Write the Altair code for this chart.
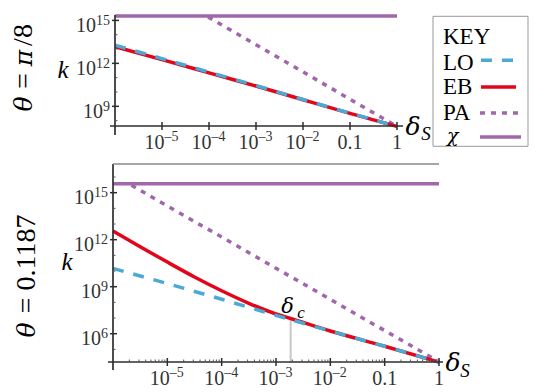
import altair as alt
import pandas as pd

# ---------------- values (log10 units) ----------------
DECADES = [-6, -5, -4, -3, -2, -1, 0]            # log10(delta_S)

# theta = pi/8
TOP_LO = [13.27, 12.33, 11.39, 10.45, 9.48, 8.52, 7.60]
TOP_EB = [13.17, 12.26, 11.34, 10.42, 9.46, 8.51, 7.60]
TOP_PA_X = [-4.02, -3, -2, -1, 0]
TOP_PA = [15.24, 13.30, 11.40, 9.50, 7.60]
TOP_CHI = 15.31

# theta = 0.1187
BOT_LO = [10.17, 9.20, 8.20, 7.17, 6.17, 5.20, 4.19]
BOT_EB_X = [-6, -5.5, -5, -4.5, -4, -3.5, -3, -2.73, -2, -1, 0]
BOT_EB = [12.555, 11.55, 10.57, 9.62, 8.74, 7.94, 7.26, 6.97, 6.17, 5.20, 4.19]
BOT_PA_X = [-5.66, -5, -4, -3, -2, -1, 0]
BOT_PA = [15.47, 14.15, 12.17, 10.18, 8.19, 6.20, 4.21]
BOT_CHI = 15.57
DELTA_C = -2.73
DELTA_C_K = 6.85

TOP_YDOMAIN = [7.626, 15.377]
BOT_YDOMAIN = [4.195, 16.83]

# ticks and tick labels
X_TICKS = [1e-5, 1e-4, 1e-3, 1e-2, 0.1, 1]
X_BASE = ["10", "10", "10", "10", "0.1", "1"]
X_EXP = ["–5", "–4", "–3", "–2", "", ""]
X_MINOR_DECADES = [-6, -5, -4, -3, -2, -1]
MINOR_MULT = [2, 3, 4, 5, 6, 7, 8, 9]
TOP_Y_TICKS = [1e9, 1e12, 1e15]
TOP_Y_EXP = ["9", "12", "15"]
TOP_Y_MINOR = [1e8, 1e10, 1e11, 1e13, 1e14]
BOT_Y_TICKS = [1e6, 1e9, 1e12, 1e15]
BOT_Y_EXP = ["6", "9", "12", "15"]
BOT_Y_MINOR = [1e5, 1e7, 1e8, 1e10, 1e11, 1e13, 1e14, 1e16]
Y_BASE = "10"

# row titles "θ = π/8" and "θ = 0.1187", split into Greek / Latin runs
TOP_TITLE = ["θ", "=", "π", "/8"]
BOT_TITLE = ["θ", "= 0.1187"]
LEGEND_TITLE = "KEY"
LEGEND_NAMES = ["LO", "EB", "PA", "χ"]

SERIF = "Liberation Serif, Times New Roman, Times, serif"
GREEK = "DejaVu Serif, serif"
BLUE = "#4AAAD4"
RED = "#E2061C"
PURPLE = "#A068AB"
AX = "#2e2e2e"
LBL = "#333333"
LW = 3.5

# whole drawing area and the two plot frames (pixels inside the view)
W, H = 521, 376
TOP_FRAME = (107, 0, 282, 111)      # x0, y0, width, height
BOT_FRAME = (105, 149, 326, 198)


def sdf(xlog, ylog):
    return pd.DataFrame({"d": [10 ** v for v in xlog], "k": [10 ** v for v in ylog]})


def one():
    return pd.DataFrame({"a": [0]})


def txt(s, x, y, size, italic=False, angle=0, align="center", font=SERIF):
    kw = dict(font=font, fontSize=size, color="black", align=align, baseline="middle")
    if italic:
        kw["fontStyle"] = "italic"
    if angle:
        kw["angle"] = angle
    return alt.Chart(pd.DataFrame({"t": [s]})).mark_text(**kw).encode(
        x=alt.value(x), y=alt.value(y), text="t:N")


def rule(x, x2, y, y2, color, width, dash=None):
    kw = dict(color=color, strokeWidth=width)
    if dash:
        kw["strokeDash"] = dash
    enc = dict(x=alt.value(x), y=alt.value(y))
    if x2 is not None:
        enc["x2"] = alt.value(x2)
    if y2 is not None:
        enc["y2"] = alt.value(y2)
    return alt.Chart(one()).mark_rule(**kw).encode(**enc)


def panel(frame, ydom, lo, eb_x, eb, pa_x, pa, chi, yticks, yexps, yminor,
          xminor, xext, yext):
    ox, oy, w, h = frame
    xs = alt.Scale(type="log", domain=[1e-6, 1], nice=False, range=[ox, ox + w])
    ys = alt.Scale(type="log", domain=[10 ** ydom[0], 10 ** ydom[1]], nice=False,
                   range=[oy + h, oy])
    X = alt.X("d:Q", scale=xs, axis=None)
    Y = alt.Y("k:Q", scale=ys, axis=None)

    L = []
    L.append(alt.Chart(sdf([-6, 0], [chi, chi])).mark_line(
        color=PURPLE, strokeWidth=LW).encode(x=X, y=Y))
    L.append(alt.Chart(sdf(pa_x, pa)).mark_line(
        color=PURPLE, strokeWidth=LW, strokeDash=[5, 6]).encode(x=X, y=Y))
    L.append(alt.Chart(sdf(eb_x, eb)).mark_line(
        color=RED, strokeWidth=LW, interpolate="monotone").encode(x=X, y=Y))
    L.append(alt.Chart(sdf(DECADES, lo)).mark_line(
        color=BLUE, strokeWidth=LW, strokeDash=[11, 10]).encode(x=X, y=Y))

    # axes, Mathematica style
    L.append(rule(ox - 5, ox + w + xext, oy + h, None, AX, 1.7))
    L.append(rule(ox, None, oy, oy + h + yext, AX, 1.7))
    L.append(alt.Chart(pd.DataFrame({"d": X_TICKS})).mark_rule(
        color=AX, strokeWidth=1.5).encode(x=X, y=alt.value(oy + h - 4), y2=alt.value(oy + h + 4)))
    if xminor:
        mv = [m * 10 ** e for e in X_MINOR_DECADES for m in MINOR_MULT]
        L.append(alt.Chart(pd.DataFrame({"d": mv})).mark_rule(
            color="#555", strokeWidth=1).encode(x=X, y=alt.value(oy + h - 2.5), y2=alt.value(oy + h)))
    L.append(alt.Chart(pd.DataFrame({"k": yticks})).mark_rule(
        color=AX, strokeWidth=1.5).encode(y=Y, x=alt.value(ox - 3), x2=alt.value(ox + 4)))
    L.append(alt.Chart(pd.DataFrame({"k": yminor})).mark_rule(
        color="#555", strokeWidth=1).encode(y=Y, x=alt.value(ox), x2=alt.value(ox + 2.5)))

    # x tick labels: "10" with a raised exponent, or plain numbers
    df = pd.DataFrame({"d": X_TICKS, "b": X_BASE, "e": X_EXP})
    we, ne = df[df.e != ""], df[df.e == ""]
    lab = dict(font=SERIF, color=LBL, baseline="alphabetic")
    L.append(alt.Chart(we).mark_text(fontSize=20, align="right", dx=2.5, **lab).encode(
        x=X, y=alt.value(oy + h + 22.6), text="b:N"))
    L.append(alt.Chart(we).mark_text(fontSize=14, align="left", dx=2.5, **lab).encode(
        x=X, y=alt.value(oy + h + 15), text="e:N"))
    L.append(alt.Chart(ne).mark_text(fontSize=20, align="center", **lab).encode(
        x=X, y=alt.value(oy + h + 22.6), text="b:N"))

    # y tick labels
    dfy = pd.DataFrame({"k": yticks, "b": [Y_BASE] * len(yticks), "e": yexps,
                        "n": [len(e) for e in yexps]})
    for n in sorted(set(dfy.n)):
        sub = dfy[dfy.n == n]
        L.append(alt.Chart(sub).mark_text(fontSize=20, align="right", dx=-(5 + 7 * n), dy=11.6,
                                          **lab).encode(y=Y, x=alt.value(ox), text="b:N"))
        L.append(alt.Chart(sub).mark_text(fontSize=14, align="right", dx=-5, dy=4.6,
                                          **lab).encode(y=Y, x=alt.value(ox), text="e:N"))
    return L, X, Y


# ---------------- top panel ----------------
ox, oy, tw, th = TOP_FRAME
top_layers, TX, TY = panel(TOP_FRAME, TOP_YDOMAIN, TOP_LO, DECADES, TOP_EB, TOP_PA_X, TOP_PA,
                           TOP_CHI, TOP_Y_TICKS, TOP_Y_EXP, TOP_Y_MINOR, False, 6, 9)
top_layers.append(txt("k", ox - 52, oy + 55, 25, italic=True))
top_layers.append(txt(TOP_TITLE[0], ox - 91, oy + 89, 25, italic=True, angle=270, font=GREEK))
top_layers.append(txt(TOP_TITLE[1], ox - 91, oy + 66, 28, angle=270))
top_layers.append(txt(TOP_TITLE[2], ox - 91, oy + 43, 25, italic=True, angle=270, font=GREEK))
top_layers.append(txt(TOP_TITLE[3], ox - 91, oy + 20, 28, angle=270))
top_layers.append(txt("δ", ox + 298, oy + 112, 25, italic=True, font=GREEK))
top_layers.append(txt("S", ox + 311, oy + 119, 19, italic=True))

# legend box
lx, ly = ox + 318, oy + 1.3
top_layers.append(alt.Chart(one()).mark_rect(fill="white", stroke="#999", strokeWidth=1).encode(
    x=alt.value(lx), x2=alt.value(lx + 95), y=alt.value(ly), y2=alt.value(ly + 130)))
top_layers.append(txt(LEGEND_TITLE, lx + 10, ly + 20.4, 23, align="left"))
top_layers.append(txt(LEGEND_NAMES[0], lx + 10, ly + 46.4, 23, align="left"))
top_layers.append(txt(LEGEND_NAMES[1], lx + 10, ly + 70.9, 23, align="left"))
top_layers.append(txt(LEGEND_NAMES[2], lx + 10, ly + 96.4, 23, align="left"))
top_layers.append(txt(LEGEND_NAMES[3], lx + 14, ly + 119.5, 19, italic=True, align="left", font=GREEK))
top_layers.append(rule(lx + 48, lx + 80, ly + 44, None, BLUE, LW, [11, 10]))
top_layers.append(rule(lx + 48, lx + 83, ly + 70.7, None, RED, LW))
top_layers.append(rule(lx + 47, lx + 85, ly + 96.7, None, PURPLE, LW, [5, 6]))
top_layers.append(rule(lx + 47, lx + 88, ly + 120.7, None, PURPLE, LW))

top = alt.layer(*top_layers)

# ---------------- bottom panel ----------------
bx, by, bw, bh = BOT_FRAME
bot_layers, BX, BY = panel(BOT_FRAME, BOT_YDOMAIN, BOT_LO, BOT_EB_X, BOT_EB, BOT_PA_X, BOT_PA,
                           BOT_CHI, BOT_Y_TICKS, BOT_Y_EXP, BOT_Y_MINOR, True, 4, 8)
dc = pd.DataFrame({"d": [10 ** DELTA_C], "k": [10 ** DELTA_C_K], "k2": [10 ** BOT_YDOMAIN[0]]})
bot_layers.insert(0, alt.Chart(dc).mark_rule(color="#C8C8C8", strokeWidth=2).encode(
    x=BX, y=BY, y2="k2:Q"))
bot_layers.append(rule(bx, bx + bw, by, None, "#888", 1.5))
bot_layers.append(txt("k", bx - 46, by + 98, 25, italic=True))
bot_layers.append(txt(BOT_TITLE[0], bx - 86, by + 166, 25, italic=True, angle=270, font=GREEK))
bot_layers.append(txt(BOT_TITLE[1], bx - 86, by + 100, 28, angle=270))
bot_layers.append(txt("δ", bx + 174.5, by + 142.5, 21, italic=True, font=GREEK))
bot_layers.append(txt("c", bx + 188, by + 148.5, 17, italic=True))
bot_layers.append(txt("δ", bx + 340, by + 199, 25, italic=True, font=GREEK))
bot_layers.append(txt("S", bx + 352, by + 207, 19, italic=True))

bottom = alt.layer(*bot_layers)

chart = alt.layer(top, bottom).resolve_scale(
    x="independent", y="independent"
).properties(
    width=W, height=H, padding=0, background="white"
).configure_view(strokeWidth=0)

chart.save("out.html", embed_options={"renderer": "svg", "actions": False})
